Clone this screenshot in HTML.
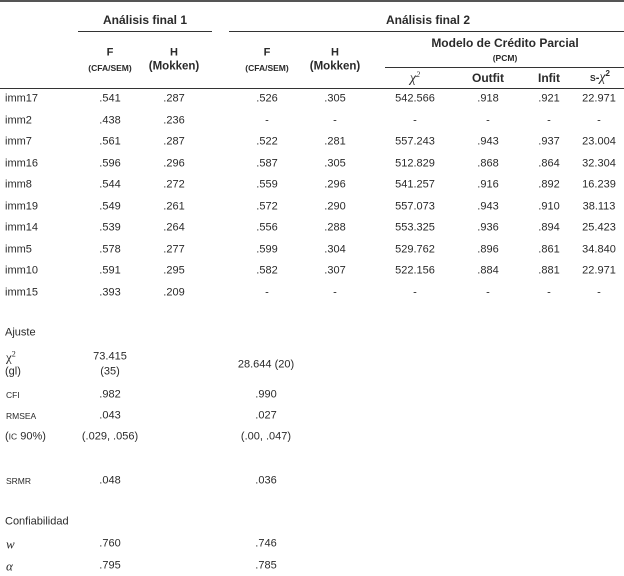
<!DOCTYPE html>
<html><head><meta charset="utf-8"><style>
body{margin:0;width:624px;height:576px;background:#fff;position:relative;overflow:hidden;font-family:"Liberation Sans","DejaVu Sans",sans-serif;color:#2a2a2a;font-size:11px}
.t{position:absolute;white-space:nowrap;transform:translate(-50%,-50%);line-height:1}
.l{position:absolute;white-space:nowrap;transform:translateY(-50%);line-height:1}
.b{font-weight:bold}
.sc{font-size:8.5px}
.hr{position:absolute;height:1px;background:#333}
sup{font-size:8px;vertical-align:5px;line-height:0}
</style></head><body>
<div class="hr" style="left:0;top:0;width:624px;height:2px;background:#555"></div>
<div class="t b" style="left:145px;top:20px;font-size:12px">Análisis final 1</div>
<div class="t b" style="left:428px;top:20px;font-size:12px">Análisis final 2</div>
<div class="hr" style="left:78px;top:31px;width:134px"></div>
<div class="hr" style="left:229px;top:31px;width:395px"></div>
<div class="t b" style="left:505px;top:43px;font-size:12px">Modelo de Crédito Parcial</div>
<div class="t b sc" style="left:505px;top:58px">(PCM)</div>
<div class="hr" style="left:385px;top:67px;width:239px"></div>
<div class="t b" style="left:110px;top:53px">F</div>
<div class="t b sc" style="left:110px;top:68px">(CFA/SEM)</div>
<div class="t b" style="left:174px;top:53px">H</div>
<div class="t b" style="left:174px;top:67px;font-size:11.5px">(Mokken)</div>
<div class="t b" style="left:267px;top:53px">F</div>
<div class="t b sc" style="left:267px;top:68px">(CFA/SEM)</div>
<div class="t b" style="left:335px;top:53px">H</div>
<div class="t b" style="left:335px;top:67px;font-size:11.5px">(Mokken)</div>
<div class="t" style="left:415px;top:79px;font-family:'Liberation Serif',serif;font-style:italic;font-size:14px">χ<sup>2</sup></div>
<div class="t b" style="left:488px;top:78px;font-size:12px">Outfit</div>
<div class="t b" style="left:549px;top:78px;font-size:12px">Infit</div>
<div class="t b" style="left:600px;top:78px"><span class="sc">S</span>-<span style="font-family:'Liberation Serif',serif;font-style:italic;font-weight:normal;font-size:14px">χ</span><sup>2</sup></div>
<div class="hr" style="left:0;top:88px;width:624px"></div>
<div id="rows"></div>
<script>
var d=[["imm17",".541",".287",".526",".305","542.566",".918",".921","22.971"],
["imm2",".438",".236","-","-","-","-","-","-"],
["imm7",".561",".287",".522",".281","557.243",".943",".937","23.004"],
["imm16",".596",".296",".587",".305","512.829",".868",".864","32.304"],
["imm8",".544",".272",".559",".296","541.257",".916",".892","16.239"],
["imm19",".549",".261",".572",".290","557.073",".943",".910","38.113"],
["imm14",".539",".264",".556",".288","553.325",".936",".894","25.423"],
["imm5",".578",".277",".599",".304","529.762",".896",".861","34.840"],
["imm10",".591",".295",".582",".307","522.156",".884",".881","22.971"],
["imm15",".393",".209","-","-","-","-","-","-"]];
var xs=[110,174,267,335,415,488,549,599],h="";
d.forEach(function(r,i){var y=99+i*21.55;h+='<div class="l" style="left:5px;top:'+y+'px">'+r[0]+'</div>';
for(var j=1;j<9;j++)h+='<div class="t" style="left:'+xs[j-1]+'px;top:'+y+'px">'+r[j]+'</div>';});
document.getElementById("rows").innerHTML=h;
</script>
<div class="l" style="left:5px;top:333px">Ajuste</div>
<div class="l" style="left:6px;top:357px;font-family:'Liberation Serif',serif;font-size:13px">χ<sup>2</sup></div>
<div class="l" style="left:5px;top:372px">(gl)</div>
<div class="t" style="left:110px;top:357px">73.415</div>
<div class="t" style="left:110px;top:372px">(35)</div>
<div class="t" style="left:266px;top:365px">28.644 (20)</div>
<div class="l sc" style="left:6px;top:395px">CFI</div>
<div class="t" style="left:110px;top:395px">.982</div>
<div class="t" style="left:266px;top:395px">.990</div>
<div class="l sc" style="left:6px;top:416px">RMSEA</div>
<div class="t" style="left:110px;top:416px">.043</div>
<div class="t" style="left:266px;top:416px">.027</div>
<div class="l" style="left:5px;top:437px">(<span class="sc">IC</span> 90%)</div>
<div class="t" style="left:110px;top:437px">(.029, .056)</div>
<div class="t" style="left:266px;top:437px">(.00, .047)</div>
<div class="l sc" style="left:6px;top:481px">SRMR</div>
<div class="t" style="left:110px;top:481px">.048</div>
<div class="t" style="left:266px;top:481px">.036</div>
<div class="l" style="left:5px;top:522px">Confiabilidad</div>
<div class="l" style="left:6px;top:544px;font-family:'Liberation Serif',serif;font-style:italic;font-size:13px">w</div>
<div class="t" style="left:110px;top:544px">.760</div>
<div class="t" style="left:266px;top:544px">.746</div>
<div class="l" style="left:6px;top:566px;font-family:'Liberation Serif',serif;font-style:italic;font-size:13px">α</div>
<div class="t" style="left:110px;top:566px">.795</div>
<div class="t" style="left:266px;top:566px">.785</div>
</body></html>
